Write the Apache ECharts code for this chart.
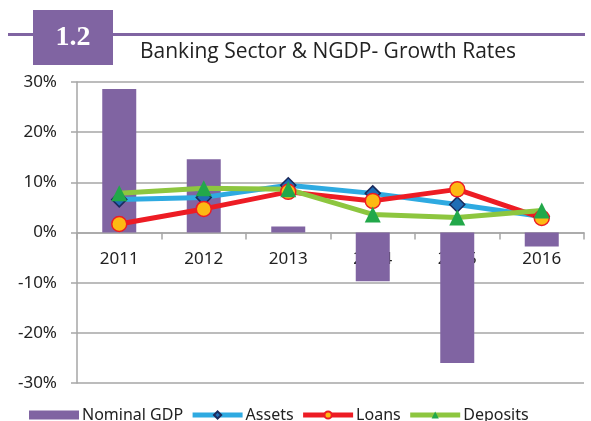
<!DOCTYPE html>
<html>
<head>
<meta charset="utf-8">
<script src="https://cdn.jsdelivr.net/npm/echarts@6/dist/echarts.min.js"></script>
<style>
  html, body { margin: 0; padding: 0; background: #fff; }
  #chart { width: 591px; height: 421px; }
</style>
</head>
<body>
<div id="chart"></div>
<script>
var years = ['2011', '2012', '2013', '2014', '2015', '2016'];
var nominalGdp = [28.6, 14.6, 1.2, -9.7, -26.0, -2.8];
var assets = [6.6, 7.0, 9.4, 7.8, 5.6, 3.2];
var loans = [1.7, 4.7, 8.1, 6.3, 8.6, 2.9];
var deposits = [7.8, 8.8, 8.6, 3.6, 3.0, 4.4];
var yTicks = { min: -30, max: 30, step: 10 };

var myChart = echarts.init(document.getElementById('chart'));
var font = '"Noto Sans", sans-serif';
var gridGrey = '#a6a6a6';
var gridTop = 82, gridBottom = 38;
// half the plot height: lifts the category axis up to the 0% line
var zeroOffset = -(421 - gridTop - gridBottom) / 2;

var option = {
  animation: false,
  textStyle: { fontFamily: font },
  graphic: [
    // header rule + numbered box
    { type: 'rect', shape: { x: 8, y: 33, width: 577, height: 3 }, style: { fill: '#8064a2' } },
    { type: 'rect', shape: { x: 33, y: 10, width: 80, height: 55 }, style: { fill: '#8064a2' } },
    {
      type: 'text', x: 73, y: 38,
      style: {
        text: '1.2', fill: '#fff', font: 'bold 28px "Liberation Serif", serif',
        textAlign: 'center', textVerticalAlign: 'middle'
      }
    },
    {
      type: 'text', x: 140, y: 52,
      style: {
        text: 'Banking Sector & NGDP- Growth Rates', fill: '#222',
        font: '21px "Open Sans", sans-serif', textVerticalAlign: 'middle'
      }
    }
  ],
  grid: { left: 77, right: 7, top: gridTop, bottom: gridBottom },
  legend: {
    left: 24, top: 402,
    itemWidth: 50, itemHeight: 9, itemGap: 7,
    lineStyle: { width: 5 },
    textStyle: { fontSize: 16, color: '#222', padding: [0, 0, 0, -2] },
    data: [
      { name: 'Nominal GDP', icon: 'rect' },
      { name: 'Assets' },
      { name: 'Loans' },
      { name: 'Deposits' }
    ]
  },
  xAxis: {
    type: 'category',
    data: years,
    offset: zeroOffset,
    axisLine: { onZero: false, lineStyle: { color: gridGrey, width: 1.5 } },
    axisTick: { show: true, length: 7, lineStyle: { color: gridGrey, width: 1.5 } },
    axisLabel: { fontSize: 17, color: '#222', margin: 18 }
  },
  yAxis: {
    type: 'value',
    min: yTicks.min, max: yTicks.max, interval: yTicks.step,
    axisLine: { show: true, lineStyle: { color: gridGrey, width: 1.5 } },
    axisTick: { show: true, length: 6, lineStyle: { color: gridGrey, width: 1.5 } },
    axisLabel: { fontSize: 17, color: '#222', margin: 20, formatter: '{value}%' },
    splitLine: { lineStyle: { color: gridGrey, width: 1.5 } }
  },
  series: [
    {
      name: 'Nominal GDP', type: 'bar', data: nominalGdp,
      barWidth: 34, itemStyle: { color: '#8064a2' }
    },
    {
      name: 'Assets', type: 'line', data: assets,
      symbol: 'diamond', symbolSize: 15, showAllSymbol: true,
      lineStyle: { color: '#2eaae1', width: 5 },
      itemStyle: { color: '#1f6db5', borderColor: '#1b2a5c', borderWidth: 1.5 }
    },
    {
      name: 'Loans', type: 'line', data: loans,
      symbol: 'circle', symbolSize: 15,
      lineStyle: { color: '#ed1c24', width: 5 },
      itemStyle: { color: '#fdb913', borderColor: '#ed1c24', borderWidth: 1.5 }
    },
    {
      name: 'Deposits', type: 'line', data: deposits,
      symbol: 'triangle', symbolSize: 16,
      lineStyle: { color: '#8dc63f', width: 5 },
      itemStyle: { color: '#22a84a' }
    }
  ]
};

myChart.setOption(option);
</script>
</body>
</html>
